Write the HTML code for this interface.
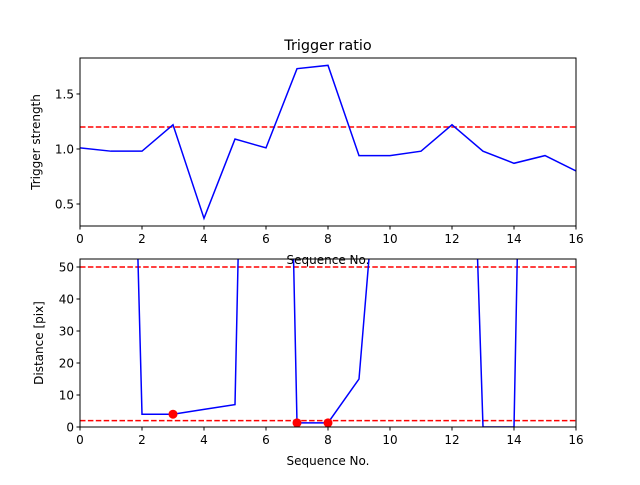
<!DOCTYPE html>
<html><head><meta charset="utf-8"><style>
body{margin:0;background:#fff;font-family:"Liberation Sans","DejaVu Sans",sans-serif;}
svg text{font-family:"DejaVu Sans","Liberation Sans",sans-serif;}
</style></head><body>
<svg id="c" width="640" height="480" xmlns="http://www.w3.org/2000/svg"></svg>
<script>
const seq=[0,1,2,3,4,5,6,7,8,9,10,11,12,13,14,15,16];
const ratio=[1.01,0.98,0.98,1.22,0.37,1.09,1.01,1.73,1.76,0.94,0.94,0.98,1.22,0.98,0.87,0.94,0.80];
const ratioThreshold=1.2;
const dist=[300,374,4,4,5.5,7,462,1.3,1.3,15,132,300,300,0,0,500,300];
const distThresholds=[50,2];
const markedIdx=[3,7,8];
const xTicks=[0,2,4,6,8,10,12,14,16];
const topYTicks=[0.5,1.0,1.5];
const botYTicks=[0,10,20,30,40,50];
const NS="http://www.w3.org/2000/svg";
const svg=document.getElementById('c');
function mk(t,a,p){const e=document.createElementNS(NS,t);for(const k in a)e.setAttribute(k,a[k]);(p||svg).appendChild(e);return e;}
function axes(o){
  const g=mk('g',{});
  
  
  const L=80,R=576,T=o.T,B=o.B;
  const sx=v=>L+(v-0)/(16-0)*(R-L);
  const sy=v=>B-(v-o.ymin)/(o.ymax-o.ymin)*(B-T);
  const cid='clip'+o.name;
  const cp=mk('clipPath',{id:cid},g);mk('rect',{x:L,y:T,width:R-L,height:B-T},cp);
  const pg=mk('g',{'clip-path':'url(#'+cid+')'},g);
  o.hlines.forEach(h=>{const l=mk('line',{x1:L,x2:R,y1:sy(h),y2:sy(h),stroke:'#ff0000','stroke-width':1.5,'stroke-dasharray':'5.5,2.4'},pg);
    
    });
  const pts=seq.map((x,i)=>sx(x)+','+sy(o.data[i])).join(' ');
  const pl=mk('polyline',{points:pts,fill:'none',stroke:'#0000ff','stroke-width':1.5},pg);
  
  
  (o.marks||[]).forEach(i=>{const c=mk('circle',{cx:sx(seq[i]),cy:sy(o.data[i]),r:4.5,fill:'#ff0000'},pg);
    
    });
  mk('rect',{x:L,y:T,width:R-L,height:B-T,fill:'none',stroke:'#000','stroke-width':1},g);
  xTicks.forEach(v=>{mk('line',{x1:sx(v),x2:sx(v),y1:B,y2:B+3.5,stroke:'#000'},g);
    const t=mk('text',{x:sx(v),y:B+17,'font-size':12,'text-anchor':'middle'},g);t.textContent=v;
    
    });
  o.yticks.forEach(v=>{mk('line',{x1:L-3.5,x2:L,y1:sy(v),y2:sy(v),stroke:'#000'},g);
    const t=mk('text',{x:L-6,y:sy(v)+4.5,'font-size':12,'text-anchor':'end'},g);t.textContent=o.fmt(v);
    
    });
  const yt=mk('text',{x:0,y:0,'font-size':12,'text-anchor':'middle',transform:'translate('+o.ylx+','+((T+B)/2)+') rotate(-90)'},g);yt.textContent=o.ylabel;
  
  
  const xt=mk('text',{x:(L+R)/2,y:B+38,'font-size':12,'text-anchor':'middle'},g);xt.textContent='Sequence No.';
  
  
}
axes({name:'ratio-panel',T:58,B:226,ymin:0.3,ymax:1.827,data:ratio,hlines:[ratioThreshold],yticks:topYTicks,fmt:v=>v.toFixed(1),ylabel:'Trigger strength',ylx:40});
axes({name:'distance-panel',T:259,B:427,ymin:0,ymax:52.5,data:dist,hlines:distThresholds,marks:markedIdx,yticks:botYTicks,fmt:v=>v,ylabel:'Distance [pix]',ylx:43});
const title=mk('text',{x:328,y:50,'font-size':14.4,'text-anchor':'middle'});title.textContent='Trigger ratio';


</script>
</body></html>
